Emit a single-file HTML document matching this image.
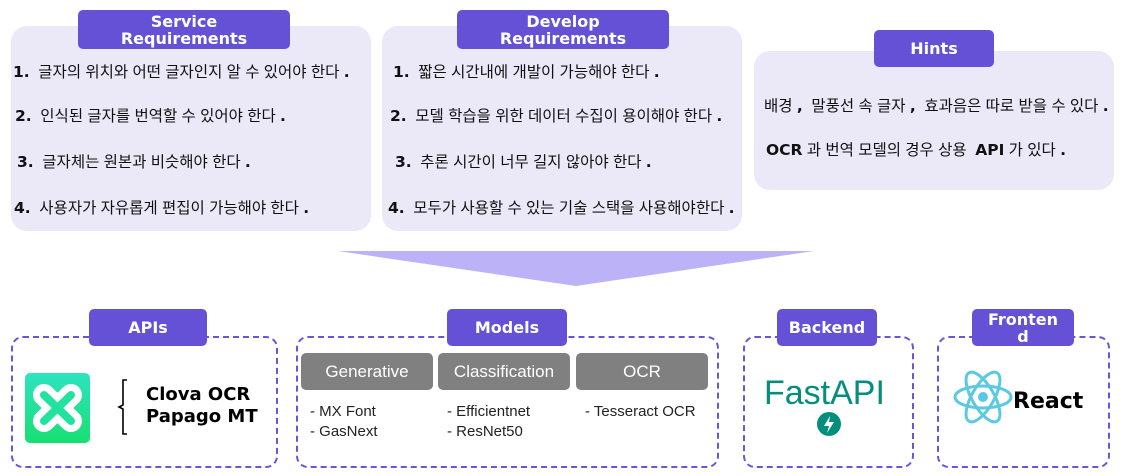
<!DOCTYPE html>
<html><head><meta charset="utf-8"><style>
body{margin:0;width:1122px;height:476px;background:#fff;position:relative;overflow:hidden;font-family:"Liberation Sans","Noto Sans CJK KR",sans-serif;}
.a{position:absolute;}
.panel{position:absolute;background:#ebe8f8;border-radius:16px;}
.title{position:absolute;background:#6551d6;color:#fff;font-family:"DejaVu Sans",sans-serif;font-weight:bold;font-size:16px;text-align:center;border-radius:5px;line-height:17px;display:flex;align-items:center;justify-content:center;}
.t{position:absolute;white-space:nowrap;font-size:15.5px;color:#111;}
.t b{font-family:"DejaVu Sans",sans-serif;}
.dash{position:absolute;border:2.5px dashed #6a55d9;border-radius:12px;box-sizing:border-box;}
.gray{position:absolute;background:#808080;color:#fff;font-size:17px;border-radius:5px;display:flex;align-items:center;justify-content:center;}
.m{position:absolute;font-size:15px;color:#222;line-height:20px;white-space:nowrap;}
</style></head><body>
<div class="panel" style="left:11px;top:26px;width:360px;height:205px"></div>
<div class="title" style="left:78px;top:10px;width:212px;height:39px">Service<br>Requirements</div>
<div class="t" style="left:13px;top:60px"><b>1.</b>&nbsp; 글자의 위치와 어떤 글자인지 알 수 있어야 한다 <b>.</b></div>
<div class="t" style="left:15px;top:104px"><b>2.</b>&nbsp; 인식된 글자를 번역할 수 있어야 한다 <b>.</b></div>
<div class="t" style="left:17px;top:150px"><b>3.</b>&nbsp; 글자체는 원본과 비슷해야 한다 <b>.</b></div>
<div class="t" style="left:14px;top:196px"><b>4.</b>&nbsp; 사용자가 자유롭게 편집이 가능해야 한다 <b>.</b></div>

<div class="panel" style="left:382px;top:26px;width:360px;height:205px"></div>
<div class="title" style="left:457px;top:10px;width:212px;height:39px">Develop<br>Requirements</div>
<div class="t" style="left:393px;top:60px"><b>1.</b>&nbsp; 짧은 시간내에 개발이 가능해야 한다 <b>.</b></div>
<div class="t" style="left:390px;top:104px"><b>2.</b>&nbsp; 모델 학습을 위한 데이터 수집이 용이해야 한다 <b>.</b></div>
<div class="t" style="left:395px;top:150px"><b>3.</b>&nbsp; 추론 시간이 너무 길지 않아야 한다 <b>.</b></div>
<div class="t" style="left:388px;top:196px"><b>4.</b>&nbsp; 모두가 사용할 수 있는 기술 스택을 사용해야한다 <b>.</b></div>

<div class="panel" style="left:754px;top:51px;width:360px;height:139px"></div>
<div class="title" style="left:874px;top:30px;width:120px;height:37px">Hints</div>
<div class="t" style="left:764px;top:94px">배경 <b>,</b>&nbsp; 말풍선 속 글자 <b>,</b>&nbsp; 효과음은 따로 받을 수 있다 <b>.</b></div>
<div class="t" style="left:766px;top:138px"><b>OCR</b> 과 번역 모델의 경우 상용 &nbsp;<b>API</b> 가 있다 <b>.</b></div>

<svg class="a" style="left:0;top:0" width="1122" height="476"><polygon points="338,251 814,251 576,286" fill="#bcb2f7"/></svg>

<div class="dash" style="left:11px;top:336px;width:267px;height:132px"></div>
<div class="title" style="left:89px;top:309px;width:118px;height:37px">APIs</div>
<div class="a" style="left:25px;top:373px;width:65px;height:70px;border-radius:5px;background:linear-gradient(#2ee3c0,#18df72)"></div>
<svg class="a" style="left:25px;top:373px" width="65" height="70"><g stroke-linecap="round"><path d="M19 22 L46 48 M46 22 L19 48" stroke="#fff" stroke-width="22"/><path d="M19 22 L46 48 M46 22 L19 48" stroke="#22e2a0" stroke-width="8"/></g></svg>
<svg class="a" style="left:112px;top:378px" width="20" height="58"><path d="M15 2 H11 V27 L7 29 L11 31 V56 H15" fill="none" stroke="#000" stroke-width="1.6"/></svg>
<div class="a" style="left:146px;top:384px;font-family:'DejaVu Sans',sans-serif;font-weight:bold;font-size:18px;line-height:22px">Clova OCR<br>Papago MT</div>

<div class="dash" style="left:296px;top:336px;width:423px;height:132px"></div>
<div class="title" style="left:447px;top:309px;width:120px;height:37px">Models</div>
<div class="gray" style="left:301px;top:353px;width:132px;height:37px">Generative</div>
<div class="gray" style="left:438px;top:353px;width:132px;height:37px">Classification</div>
<div class="gray" style="left:576px;top:353px;width:132px;height:37px">OCR</div>
<div class="m" style="left:310px;top:402px">- MX Font<br>- GasNext</div>
<div class="m" style="left:447px;top:402px">- Efficientnet<br>- ResNet50</div>
<div class="m" style="left:585px;top:402px">- Tesseract OCR</div>

<div class="dash" style="left:743px;top:336px;width:171px;height:132px"></div>
<div class="title" style="left:777px;top:309px;width:100px;height:37px">Backend</div>
<div class="a" style="left:764px;top:374px;font-size:34px;color:#058e7d">FastAPI</div>
<svg class="a" style="left:816px;top:411px" width="26" height="26"><circle cx="13" cy="13" r="12" fill="#058e7d"/><path d="M14 5 L8 15 H13 L11 22 L18 11 H13Z" fill="#fff"/></svg>

<div class="dash" style="left:937px;top:336px;width:173px;height:132px"></div>
<div class="title" style="left:972px;top:309px;width:102px;height:37px">Fronten<br>d</div>
<svg class="a" style="left:952px;top:368px" width="62" height="60"><g fill="none" stroke="#5bc9e2" stroke-width="3"><ellipse cx="31" cy="29" rx="28" ry="11"/><ellipse cx="31" cy="29" rx="28" ry="11" transform="rotate(60 31 29)"/><ellipse cx="31" cy="29" rx="28" ry="11" transform="rotate(-60 31 29)"/></g><circle cx="31" cy="29" r="5" fill="#5bc9e2"/></svg>
<div class="a" style="left:1013px;top:389px;font-family:'DejaVu Sans',sans-serif;font-weight:bold;font-size:22px">React</div>
</body></html>
